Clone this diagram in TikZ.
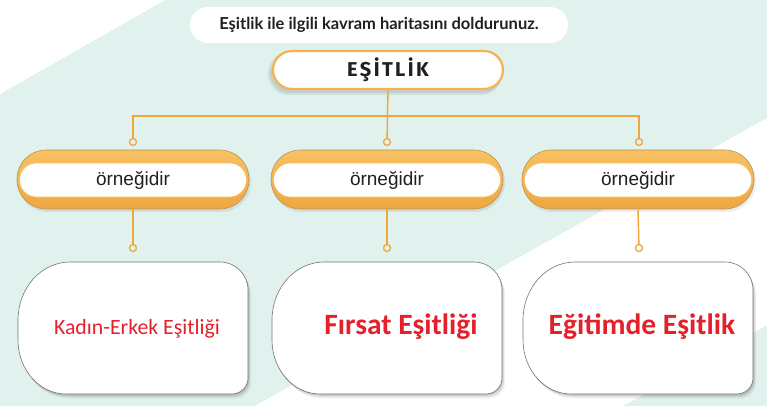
\documentclass[tikz,border=0pt]{standalone}
\usepackage{fontspec}
\setmainfont{Liberation Sans}
\newfontfamily\instrfont{Lato}
\newfontfamily\titlefont[LetterSpace=12]{Fira Sans}
\newfontfamily\ansfont{Carlito}
\usetikzlibrary{calc}
\definecolor{bgmint}{HTML}{E0F1EE}
\definecolor{lineor}{HTML}{F0A73A}
\definecolor{pilltop}{HTML}{F7C164}
\definecolor{pillbot}{HTML}{EFA63F}
\definecolor{pilledge}{HTML}{B9955A}
\definecolor{titleor}{HTML}{F5B250}
\definecolor{ansred}{HTML}{E5202B}
\definecolor{txt}{HTML}{231F20}
\tikzset{
  instr/.style={fill=white, rounded corners=18pt, minimum width=378pt, minimum height=36pt, inner sep=0pt,
    font=\instrfont\bfseries\fontsize{16.5}{18}\selectfont, text=txt},
  titlepill/.style={fill=white, draw=titleor, line width=2.2pt, rounded corners=19pt, minimum width=230pt,
    minimum height=38pt, inner sep=0pt, font=\titlefont\bfseries\fontsize{20}{22}\selectfont, text=txt},
  expill/.style={top color=pilltop, bottom color=pillbot, draw=pilledge, line width=0.6pt, rounded corners=29pt,
    minimum width=232pt, minimum height=59pt, inner sep=0pt},
  exin/.style={fill=white, draw=pilltop, line width=0.6pt, rounded corners=17pt, minimum width=227pt,
    minimum height=34pt, inner sep=0pt, font=\fontsize{19}{22}\selectfont, text=txt},
  conn/.style={draw=lineor, line width=1.4pt},
  term/.style={circle, draw=lineor, line width=1.3pt, minimum size=7pt, inner sep=0pt},
  anspath/.style={insert path={(52,0) -- (202,0) .. controls (217.5,0) and (230,12.5) .. (230,28)
    -- (230,116) .. controls (230,124.8) and (222.8,132) .. (214,132) -- (48,132)
    .. controls (21.5,132) and (0,107.8) .. (0,78) -- (0,58) .. controls (0,26) and (23.3,0) .. (52,0) -- cycle}},
  answerbox/.pic={
    \fill[black, opacity=0.05, xshift=3pt, yshift=-4.5pt, anspath];
    \fill[black, opacity=0.08, xshift=2pt, yshift=-3pt, anspath];
    \fill[black, opacity=0.10, xshift=1pt, yshift=-1.5pt, anspath];
    \draw[fill=white, draw=black!55, line width=0.6pt, anspath];
  },
  anstext/.style={text=ansred, inner sep=0pt},
  softshadow/.style={fill=black, opacity=0.07}
}
\begin{document}
\begin{tikzpicture}[x=1pt, y=-1pt]
\useasboundingbox (0,0) rectangle (767,406);
% background
\fill[bgmint] (0,0) rectangle (767,406);
\fill[white] (0,0) -- (165,0) -- (0,94) -- cycle;
\fill[white] (255,406) -- (767,118) -- (767,325) -- (623,406) -- cycle;

% instruction
\node[instr] (instr) at (379,25) {Eşitlik ile ilgili kavram haritasını doldurunuz.};

% title shadow + title
\fill[softshadow, rounded corners=21pt] (268,52) rectangle (502,95);
\fill[softshadow, rounded corners=20pt] (270,54) rectangle (502,93);
\node[titlepill] (title) at (388,70) {EŞİTLİK};

% example pills
\foreach \i/\x in {1/133,2/387,3/638}{
  \fill[softshadow, rounded corners=30pt] (\x-116+1,151.5) rectangle (\x+116+2,212);
}
\node[expill] (ex1) at (133,179.5) {};
\node[expill] (ex2) at (387,179.5) {};
\node[expill] (ex3) at (638,179.5) {};
\node[exin] (ex1t) at (133,180) {örneğidir};
\node[exin] (ex2t) at (387,180) {örneğidir};
\node[exin] (ex3t) at (638,180) {örneğidir};

% terminals
\node[term] (t1) at (133,142) {};
\node[term] (t2) at (387,142) {};
\node[term] (t3) at (639,142) {};
\node[term] (b1) at (133,248) {};
\node[term] (b2) at (387,248) {};
\node[term] (b3) at (639,248) {};
\coordinate (bar) at (387,116);

% connectors
\draw[conn] (title.south) -- (t2);
\draw[conn] (t1) |- (bar) -| (t3);
\draw[conn] (ex1.south) -- (b1);
\draw[conn] (ex2.south) -- (b2);
\draw[conn] (ex3.south) -- (b3);

% answer boxes
\pic at (18,262) {answerbox};
\pic at (272,262) {answerbox};
\pic at (523,262) {answerbox};
\node[anstext, font=\ansfont\fontsize{21.8}{24}\selectfont] (a1) at (137,329) {Kadın-Erkek Eşitliği};
\node[anstext, font=\ansfont\bfseries\fontsize{29.5}{32}\selectfont] (a2) at (401,327) {Fırsat Eşitliği};
\node[anstext, font=\ansfont\bfseries\fontsize{29.5}{32}\selectfont] (a3) at (642,327) {Eğitimde Eşitlik};
\end{tikzpicture}
\end{document}
